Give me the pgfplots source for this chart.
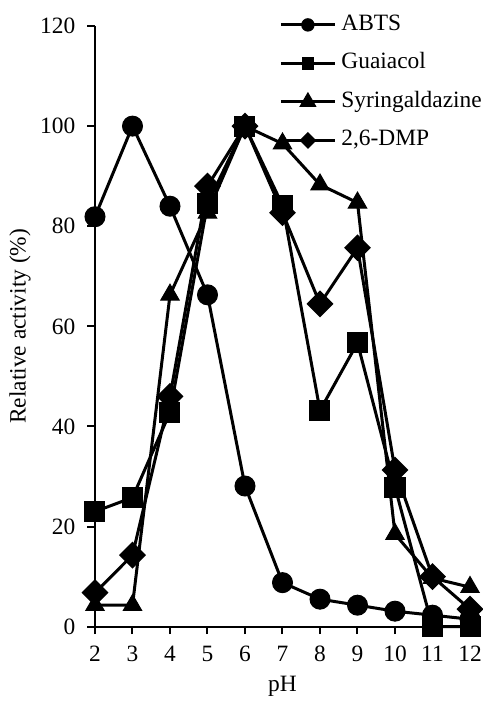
\documentclass[border=0pt]{standalone}
\usepackage{pgfplots}
\pgfplotsset{compat=1.18}
\usepackage{fontspec}
\setmainfont{Liberation Serif}
\begin{document}
\fontsize{11.7bp}{14bp}\selectfont
\begin{tikzpicture}
\useasboundingbox (-47.5bp,-37.65bp) rectangle (194bp,313.35bp);
\begin{axis}[
  at={(0,0)}, anchor=south west,
  scale only axis, width=187.5bp, height=300.35bp,
  xmin=2, xmax=12, ymin=0, ymax=120,
  xtick={2,3,...,12}, ytick={0,20,...,120},
  axis x line*=bottom, axis y line*=left,
  axis line style={line width=1bp},
  tick align=outside, major tick length=3.75bp,
  tick style={line width=1bp, black},
  /pgf/number format/assume math mode=true,
  xticklabel style={yshift=-2bp},
  yticklabel style={xshift=-2bp},
  xlabel={pH}, ylabel={Relative activity (\%)},
  xlabel style={at={(axis description cs:0.5,-0.1)}, anchor=center},
  ylabel style={at={(axis description cs:-0.2,0.5)}, anchor=center},
  clip=false,
  every axis plot/.append style={line width=1.5bp, black, mark options={solid, fill=black, line width=0.5bp}},
  legend image code/.code={\draw[#1, mark repeat=2, mark phase=2] plot coordinates {(0bp,0bp) (13.5bp,0bp) (27bp,0bp)};},
  legend style={at={(rel axis cs:0.4907,1)}, anchor=north west, yshift=6bp, draw=none, fill=none,
    inner sep=0pt, row sep=8.75bp, column sep=2.5bp,
    nodes={inner sep=0pt, text height=8bp, text depth=2.5bp}},
  legend cell align=left,
]
\addplot[mark=*, mark size=5bp, legend image post style={every mark/.append style={scale=0.62}}] coordinates {
(2,81.9) (3,100) (4,84) (5,66.3) (6,28.1) (7,8.8) (8,5.5) (9,4.3) (10,3.1) (11,2.3) (12,1.5)};
\addlegendentry{ABTS}
\addplot[mark=square*, mark size=5bp, legend image post style={every mark/.append style={scale=0.57}}] coordinates {
(2,23) (3,25.8) (4,42.8) (5,84.5) (6,100) (7,84.2) (8,43.2) (9,56.7) (10,27.9) (11,0) (12,0)};
\addlegendentry{Guaiacol}
\addplot[mark=triangle*, mark size=5.3bp, legend image post style={every mark/.append style={scale=0.85}}] coordinates {
(2,4.3) (3,4.3) (4,66.3) (5,82.7) (6,100) (7,96.5) (8,88.3) (9,84.7) (10,18.5) (11,9.7) (12,7.9)};
\addlegendentry{Syringaldazine}
\addplot[mark=square*, mark size=4bp, mark options={rotate=45}, legend image post style={every mark/.append style={scale=0.56}}] coordinates {
(2,6.8) (3,14.3) (4,46) (5,88) (6,100) (7,82.7) (8,64.5) (9,75.7) (10,31.3) (11,10) (12,3.5)};
\addlegendentry{2,6-DMP}
\end{axis}
\end{tikzpicture}
\end{document}
